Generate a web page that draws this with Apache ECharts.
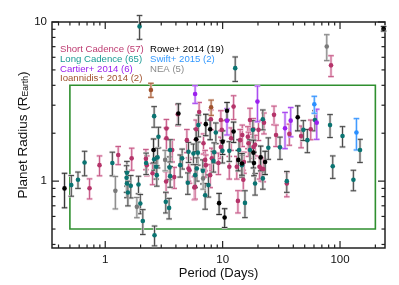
<!DOCTYPE html>
<html><head><meta charset="utf-8">
<script src="https://cdn.jsdelivr.net/npm/echarts@6/dist/echarts.min.js"></script>
<style>html,body{margin:0;padding:0;background:#fff}#c{width:399px;height:285px}</style>
</head><body><div id="c"></div>
<script>
// ---- data: [period (days), radius (R_Earth), radius error] ----
const shortCadence = [[0.735,0.903,0.13],[0.894,1.26,0.18],[1.29,1.46,0.19],[1.68,1.39,0.22],[2.22,1.38,0.2],[2.26,1.26,0.18],[2.53,1.12,0.17],[3.30,0.995,0.15],[3.87,1.06,0.16],[3.32,2.14,0.3],[3.32,1.86,0.3],[4.15,2.63,0.4],[5.22,1.17,0.2],[5.75,0.913,0.15],[4.96,1.81,0.3],[6.31,2.72,0.4],[5.95,2.12,0.3],[6.87,1.73,0.25],[7.94,2.45,0.35],[9.66,2.42,0.35],[9.84,2.10,0.3],[11.8,1.86,0.3],[12.4,2.94,0.5],[14.7,1.95,0.3],[7.10,1.36,0.2],[9.21,1.30,0.2],[11.4,1.23,0.2],[5.12,1.20,0.2],[5.83,0.921,0.15],[7.19,1.26,0.2],[7.83,1.09,0.18],[13.5,0.751,0.12],[8.09,1.39,0.22],[9.66,1.64,0.25],[13.2,1.23,0.2],[18.3,1.64,0.25],[20.6,1.23,0.2],[22.2,1.19,0.2],[17.1,2.42,0.45],[18.3,2.12,0.35],[22.5,2.33,0.35],[27.4,2.61,0.35],[28.5,1.95,0.3],[37.0,1.98,0.3],[46.6,1.92,0.3],[14.1,1.81,0.3],[16.4,1.90,0.3],[16.6,1.73,0.3],[20.2,2.10,0.3],[21.3,1.20,0.2],[35.2,0.967,0.17],[15.0,1.02,0.15],[15.2,1.32,0.2],[83.8,5.34,0.8],[56.3,2.12,0.3],[18.9,1.69,0.25],[3.72,1.57,0.25]];
const longCadence = [[0.514,0.944,0.14],[0.586,1.02,0.12],[0.667,1.31,0.23],[1.15,1.30,0.22],[1.53,1.13,0.2],[1.52,1.05,0.2],[1.53,0.967,0.18],[1.65,0.934,0.15],[1.56,0.849,0.15],[1.92,0.953,0.12],[1.99,0.724,0.1],[2.09,0.562,0.1],[2.63,0.457,0.065],[1.96,9.38,1.6],[2.61,2.56,0.38],[2.84,1.90,0.28],[2.61,1.37,0.2],[2.79,1.41,0.2],[2.23,1.30,0.2],[2.72,1.23,0.2],[2.75,1.09,0.16],[3.28,0.741,0.11],[3.50,0.679,0.1],[3.53,1.22,0.2],[3.57,1.075,0.16],[4.52,1.39,0.2],[5.12,1.53,0.22],[5.05,0.976,0.15],[5.64,1.49,0.22],[12.8,5.13,0.9],[61.2,2.42,0.35],[82.2,2.25,0.37],[105,1.92,0.28],[148,1.57,0.26],[86.7,1.24,0.2],[130,1.02,0.15],[52.7,1.81,0.3],[48.7,2.10,0.3],[6.22,2.25,0.35],[6.15,1.51,0.25],[8.75,2.02,0.3],[9.96,1.55,0.25],[13.8,1.57,0.25],[8.35,1.34,0.2],[6.03,1.20,0.2],[5.83,1.09,0.18],[6.78,1.16,0.2],[7.57,0.944,0.15],[7.10,0.816,0.15],[15.5,0.730,0.14],[18.9,0.967,0.15],[8.47,1.52,0.22],[11.4,1.55,0.22],[14.7,1.28,0.2],[24.5,1.62,0.25],[30.8,1.63,0.26],[35.2,1.00,0.15],[22.0,2.45,0.35],[18.1,2.10,0.3],[17.1,1.57,0.25],[22.0,1.04,0.15],[14.6,1.26,0.2],[4.35,1.26,0.2],[3.57,1.57,0.25]];
const cartier = [[5.83,3.53,0.45],[10.9,2.40,0.45],[19.8,3.16,0.8],[34.0,2.15,0.55],[38.0,2.40,0.5],[63.3,2.33,0.5]];
const ioannidis = [[2.45,3.74,0.38],[7.98,2.91,0.32]];
const rowe = [[0.45,0.90,0.22],[235,9.07,0.3],[2.58,1.57,0.27],[10.9,2.77,0.35],[43.6,2.52,0.45],[7.19,2.28,0.35],[7.83,2.12,0.3],[5.95,1.83,0.3],[10.0,1.77,0.3],[12.4,2.05,0.3],[13.6,1.36,0.2],[14.6,1.29,0.2],[9.33,0.727,0.11],[10.4,0.591,0.08],[18.5,1.30,0.22],[21.1,1.41,0.25],[23.0,1.32,0.22],[18.3,1.51,0.3],[4.2,2.66,0.4]];
const swift = [[60.4,3.04,0.37],[138,2.02,0.45]];
const nea = [[77.1,7.02,1.3],[1.22,0.869,0.2],[1.86,0.689,0.1],[6.82,1.04,0.15],[3.24,1.36,0.2]];

const legendLabels = ['Short Cadence (57)','Long Cadence (65)','Cartier+ 2014 (6)','Ioannidis+ 2014 (2)','Rowe+ 2014 (19)','Swift+ 2015 (2)','NEA (5)'];

// box (period range, radius range)
const boxPeriod = [0.5, 200];
const boxRadius = [0.5, 4];

// axis ranges and ticks
const xRange = [0.352, 241.6];
const yRange = [0.38, 10];
const xMajorTicks = [1, 10, 100];
const xMinorTicks = [0.4,0.5,0.6,0.7,0.8,0.9,2,3,4,5,6,7,8,9,20,30,40,50,60,70,80,90,200];
const yMajorTicks = [1, 10];
const yMinorTicks = [0.4,0.5,0.6,0.7,0.8,0.9,2,3,4,5,6,7,8,9];

const FONT = '"Liberation Sans", Arial, Helvetica, sans-serif';

const groups = [
  {name:'Short Cadence', data: shortCadence, color:'#b5346a', err:'#c2507f', halo:'#f0cadb', label:'#bd3a70'},
  {name:'Long Cadence', data: longCadence, color:'#0a7472', err:'#3a3a3a', halo:'#d2d2d2', label:'#1a9a94'},
  {name:'Cartier', data: cartier, color:'#9b20ee', err:'#a23cf0', halo:'#e0bef8', label:'#9b20ee'},
  {name:'Ioannidis', data: ioannidis, color:'#a0522d', err:'#a0522d', halo:'#e6cdbf', label:'#a0522d'},
  {name:'Rowe', data: rowe, color:'#000000', err:'#222222', halo:'#cccccc', label:'#000000'},
  {name:'Swift', data: swift, color:'#2a8fff', err:'#2a8fff', halo:'#bedcff', label:'#3399ff'},
  {name:'NEA', data: nea, color:'#7a7a7a', err:'#7a7a7a', halo:'#dadada', label:'#8a8a8a'}
];

function errRender(g) {
  return function (params, api) {
    const p = api.value(0), r = api.value(1), e = api.value(2);
    const c = api.coord([p, r]);
    const t = api.coord([p, r + e]);
    const b = api.coord([p, Math.max(r - e, 0.05)]);
    const w = 2.8;
    const segs = [[c[0], t[1], c[0], b[1]], [c[0]-w, t[1], c[0]+w, t[1]], [c[0]-w, b[1], c[0]+w, b[1]]];
    const ch = [];
    segs.forEach(s => ch.push({type:'line', shape:{x1:s[0],y1:s[1],x2:s[2],y2:s[3]}, style:{stroke:g.halo, lineWidth:2.6}}));
    segs.forEach(s => ch.push({type:'line', shape:{x1:s[0],y1:s[1],x2:s[2],y2:s[3]}, style:{stroke:g.err, lineWidth:0.9}}));
    return {type:'group', children: ch};
  };
}

const series = [];
// green box
series.push({
  type:'custom', coordinateSystem:'cartesian2d', silent:true, z:1,
  data:[[boxPeriod[0], boxRadius[0], boxPeriod[1], boxRadius[1]]],
  encode:{x:[0,2], y:[1,3]},
  renderItem:function(params, api){
    const a = api.coord([api.value(0), api.value(1)]);
    const b = api.coord([api.value(2), api.value(3)]);
    return {type:'rect', shape:{x:a[0], y:b[1], width:b[0]-a[0], height:a[1]-b[1]},
      style:{fill:'none', stroke:'#2f8f2f', lineWidth:1.6}};
  }
});
groups.forEach(g => {
  series.push({type:'custom', coordinateSystem:'cartesian2d', silent:true, z:2,
    data:g.data, encode:{x:0, y:1}, renderItem: errRender(g)});
});
groups.forEach(g => {
  series.push({type:'scatter', z:5, symbol:'circle', symbolSize:4.6, silent:true,
    data:g.data.map(d => [d[0], d[1]]),
    itemStyle:{color:g.color, opacity:1}});
});
// ticks on all four sides, pointing inward
series.push({
  type:'custom', coordinateSystem:'cartesian2d', silent:true, z:10,
  data:[[1,1]], encode:{x:0, y:1},
  renderItem:function(params, api){
    const ch = [];
    const add = (x1,y1,x2,y2) => ch.push({type:'line', shape:{x1,y1,x2,y2}, style:{stroke:'#222', lineWidth:1.2}});
    const xt = (v, len) => {
      const b = api.coord([v, yRange[0]]), t = api.coord([v, yRange[1]]);
      add(b[0], b[1], b[0], b[1]-len); add(t[0], t[1], t[0], t[1]+len);
    };
    const yt = (v, len) => {
      const l = api.coord([xRange[0], v]), r = api.coord([xRange[1], v]);
      add(l[0], l[1], l[0]+len, l[1]); add(r[0], r[1], r[0]-len, r[1]);
    };
    xMajorTicks.forEach(v => xt(v, 7));
    xMinorTicks.forEach(v => xt(v, 3.5));
    yMajorTicks.forEach(v => yt(v, 7));
    yMinorTicks.forEach(v => yt(v, 3.5));
    return {type:'group', children:ch};
  }
});

const isPow10 = v => Math.abs(Math.log10(v) - Math.round(Math.log10(v))) < 1e-6;

const legendPos = [[60,49],[60,59],[60,69],[60,78.5],[150,49],[150,59],[150,69]];
const graphic = groups.map((g, i) => ({
  type:'text', x:legendPos[i][0], y:legendPos[i][1], silent:true, z:20,
  style:{text:legendLabels[i], fill:g.label, font:'9.6px ' + FONT, verticalAlign:'middle', align:'left'}
}));

const chart = echarts.init(document.getElementById('c'), null, {renderer:'canvas'});
chart.setOption({
  animation:false,
  backgroundColor:'#fff',
  grid:{left:52, right:14, top:22, bottom:37, show:true, borderColor:'#222', borderWidth:1.5, backgroundColor:'transparent'},
  xAxis:{type:'log', logBase:10, min:xRange[0], max:xRange[1],
    axisLine:{show:false}, axisTick:{show:false}, splitLine:{show:false}, minorTick:{show:false},
    axisLabel:{showMinLabel:false, showMaxLabel:false, color:'#111', fontSize:11.5, fontFamily:FONT, margin:6,
      formatter: v => isPow10(v) ? String(Math.round(v)) : ''},
    name:'Period (Days)', nameLocation:'middle', nameGap:19, nameMoveOverlap:false,
    nameTextStyle:{color:'#111', fontSize:13, fontFamily:FONT}},
  yAxis:{type:'log', logBase:10, min:yRange[0], max:yRange[1],
    axisLine:{show:false}, axisTick:{show:false}, splitLine:{show:false}, minorTick:{show:false},
    axisLabel:{showMinLabel:false, showMaxLabel:true, color:'#111', fontSize:11.5, fontFamily:FONT, margin:5,
      formatter: v => isPow10(v) ? String(Math.round(v)) : ''},
    name:'Planet Radius (R{sub|Earth})', nameLocation:'middle', nameGap:22, nameMoveOverlap:false,
    nameTextStyle:{color:'#111', fontSize:13.5, fontFamily:FONT,
      rich:{sub:{fontSize:8.5, fontFamily:FONT, color:'#111', verticalAlign:'bottom', padding:[5,0,0,0]}}}},
  graphic: graphic,
  series: series
});
</script>
</body></html>
